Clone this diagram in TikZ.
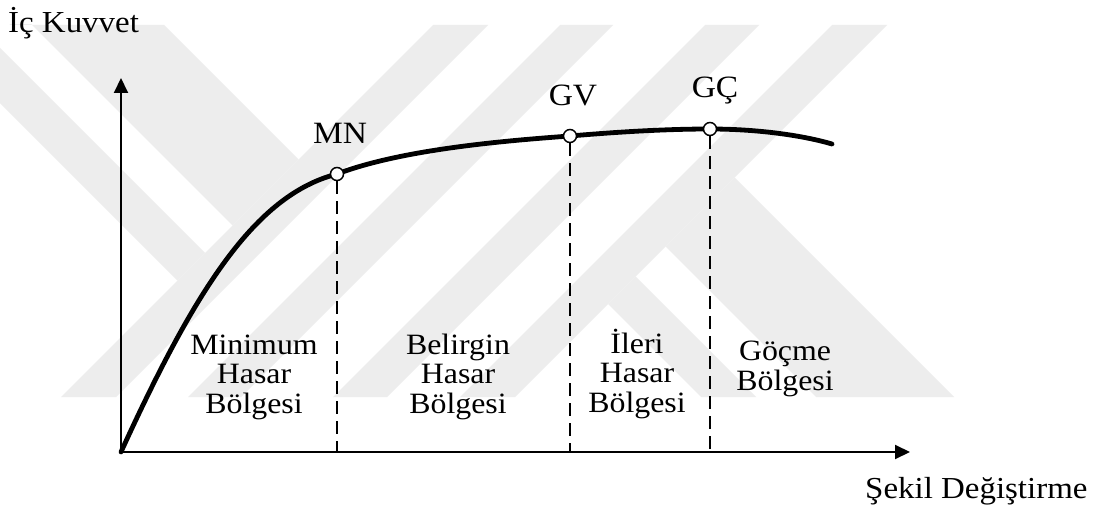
\documentclass[tikz,border=0pt]{standalone}
\usepackage{fontspec}
\setmainfont{Liberation Serif}[FakeStretch=1.08]
\usetikzlibrary{arrows.meta}
\begin{document}
\begin{tikzpicture}[x=1pt,y=-1pt,
  axisline/.style={line width=2pt,-{Triangle[length=15pt,width=14pt]}},
  capcurve/.style={line width=4.8pt,line cap=round,line join=round},
  guide/.style={line width=1.5pt,dash pattern=on 13pt off 7pt},
  statept/.style={circle,draw,line width=1.5pt,fill=white,minimum size=13pt,inner sep=0pt},
  zonelbl/.style={font=\fontsize{29.5}{29.5}\selectfont,align=center,anchor=base,inner sep=0pt},
  ptlbl/.style={font=\fontsize{31}{33}\selectfont,anchor=base,inner sep=0pt},
  axlbl/.style={font=\fontsize{30.5}{32}\selectfont,inner sep=0pt,anchor=base west},
  band/.style={fill=black!7,draw=none}
]
\useasboundingbox (0,0) rectangle (1101,511);
\fill[white] (0,0) rectangle (1101,511);

% light diagonal band pattern in the background
\begin{scope}
  \clip (0,25) rectangle (1101,397);
  \fill[band] (433,25) -- (488,25) -- (116,397) -- (61,397) -- cycle;
  \fill[band] (560,25) -- (613,25) -- (241,397) -- (188,397) -- cycle;
  \fill[band] (705,25) -- (759,25) -- (387,397) -- (333,397) -- cycle;
  \fill[band] (832,25) -- (887,25) -- (515,397) -- (460,397) -- cycle;
  \fill[band] (10,25) -- (164,25) -- (298.5,159.5) -- (232.5,225.5) -- (0,-7) -- cycle;
  \fill[band] (0,48) -- (205,253) -- (177.5,280.5) -- (0,103) -- cycle;
  \fill[band] (734.5,177.5) -- (954,397) -- (816,397) -- (665.5,246.5) -- cycle;
  \fill[band] (635.5,276.5) -- (756,397) -- (701,397) -- (608,304) -- cycle;
\end{scope}

% axes
\coordinate (o) at (121,452);
\coordinate (ytip) at (121,78);
\coordinate (xtip) at (910,452);
\draw[axisline] (o) -- (ytip);
\draw[axisline] (o) -- (xtip);
\node[axlbl] (ylab) at (8,33) {İç Kuvvet};
\node[axlbl] (xlab) at (865,498) {Şekil Değiştirme};

% capacity curve
\coordinate (pmn) at (337,174);
\coordinate (pgv) at (570,136);
\coordinate (pgc) at (710,129);
\coordinate (pend) at (832,144);
\draw[capcurve] (o) .. controls (195,290) and (255,195) .. (pmn)
  .. controls (400,150) and (500,141) .. (pgv)
  .. controls (617,132) and (665,129) .. (pgc)
  .. controls (760,129) and (805,136) .. (pend);

% performance points
\node[statept] (mn) at (pmn) {};
\node[statept] (gv) at (pgv) {};
\node[statept] (gc) at (pgc) {};
\coordinate (mnb) at (mn |- o);
\coordinate (gvb) at (gv |- o);
\coordinate (gcb) at (gc |- o);
\draw[guide] (mn.south) -- (mnb);
\draw[guide] (gv.south) -- (gvb);
\draw[guide] (gc.south) -- (gcb);
\node[ptlbl] (mnl) at (340,143) {MN};
\node[ptlbl] (gvl) at (573,106) {GV};
\node[ptlbl] (gcl) at (715,98) {GÇ};

% damage zones
\node[zonelbl] (z1) at (254,413) {Minimum\\Hasar\\Bölgesi};
\node[zonelbl] (z2) at (458,413) {Belirgin\\Hasar\\Bölgesi};
\node[zonelbl] (z3) at (637,412) {İleri\\Hasar\\Bölgesi};
\node[zonelbl] (z4) at (785,390) {Göçme\\Bölgesi};
\end{tikzpicture}
\end{document}
